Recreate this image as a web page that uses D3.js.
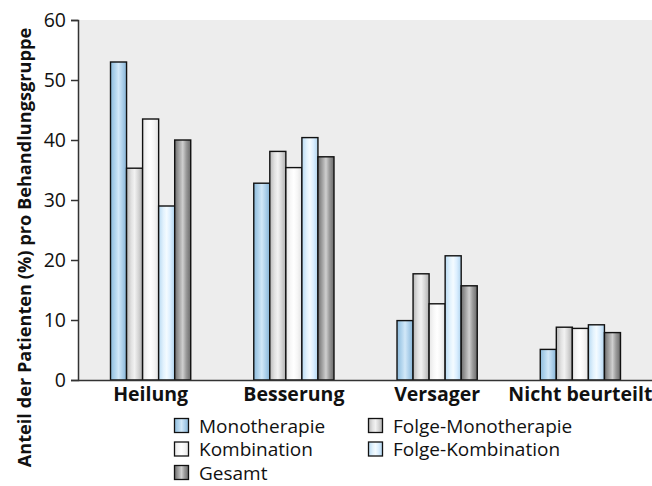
<!DOCTYPE html>
<html><head><meta charset="utf-8">
<script src="https://cdn.jsdelivr.net/npm/d3@7"></script>
<style>
html,body{margin:0;padding:0;background:#fff;}
text{font-family:"Open Sans",sans-serif;}
</style></head>
<body><svg id="c" width="652" height="486"></svg>
<script>
const categories = ["Heilung", "Besserung", "Versager", "Nicht beurteilt"];
const seriesNames = ["Monotherapie", "Folge-Monotherapie", "Kombination", "Folge-Kombination", "Gesamt"];
const monotherapie      = [53.0, 32.8, 9.9, 5.1];
const folgeMonotherapie = [35.3, 38.1, 17.7, 8.8];
const kombination       = [43.5, 35.4, 12.7, 8.6];
const folgeKombination  = [29.0, 40.4, 20.7, 9.2];
const gesamt            = [40.0, 37.2, 15.7, 7.9];
const yTicks = [0, 10, 20, 30, 40, 50, 60];
const yTitle = "Anteil der Patienten (%) pro Behandlungsgruppe";

const seriesValues = [monotherapie, folgeMonotherapie, kombination, folgeKombination, gesamt];
const gradStops = [
  ["#8dbbdc","#b4d6ee","#d2e8f8","#b0d2ec","#86b4d6"],
  ["#b8b8b8","#e2e2e2","#f2f2f2","#d8d8d8","#b0b0b0"],
  ["#e6e6e6","#f8f8f8","#ffffff","#f6f6f6","#e2e2e2"],
  ["#b8daf2","#e2f2fd","#f4fbff","#dcefff","#b0d4ee"],
  ["#6e6e6e","#a8a8a8","#cfcfcf","#9a9a9a","#6a6a6a"]
];

const svg = d3.select("#c");
const mL = 78, mT = 20, mB = 380, mR = 652;

const defs = svg.append("defs");
gradStops.forEach((st, i) => {
  const g = defs.append("linearGradient").attr("id", "g" + i)
    .attr("x1", "0").attr("x2", "1").attr("y1", "0").attr("y2", "0");
  const offs = [0, 0.3, 0.5, 0.72, 1];
  st.forEach((c, j) => g.append("stop").attr("offset", offs[j]).attr("stop-color", c));
});

svg.append("rect").attr("x", mL).attr("y", mT).attr("width", mR - mL).attr("height", mB - mT)
  .attr("fill", "#ededed");

const x = d3.scaleBand().domain(categories).range([mL + 1, mR]).paddingInner(0.44).paddingOuter(0.22);
const xi = d3.scaleBand().domain(seriesNames).range([0, x.bandwidth()]);
const y = d3.scaleLinear().domain([0, 60]).range([mB, mT]);

const data = [];
categories.forEach((c, ci) => seriesNames.forEach((s, si) => data.push({c, s, si, v: seriesValues[si][ci]})));

svg.append("g").selectAll("rect").data(data).join("rect")
  .attr("x", d => x(d.c) + xi(d.s))
  .attr("y", d => y(d.v))
  .attr("width", xi.bandwidth())
  .attr("height", d => y(0) - y(d.v))
  .attr("fill", d => `url(#g${d.si})`)
  .attr("stroke", "#111").attr("stroke-width", 1.4);

const yAxis = svg.append("g").attr("transform", `translate(${mL},0)`)
  .call(d3.axisLeft(y).tickValues(yTicks).tickSize(7).tickPadding(5));
yAxis.select(".domain").attr("stroke", "#333").attr("stroke-width", 1.5);
yAxis.selectAll(".tick line").attr("stroke", "#333").attr("stroke-width", 1.5);
yAxis.selectAll("text").attr("font-size", 19.5).attr("fill", "#111").attr("font-family", "Open Sans");

const xAxis = svg.append("g").attr("transform", `translate(0,${mB})`)
  .call(d3.axisBottom(x).tickSize(0).tickPadding(8));
xAxis.select(".domain").attr("stroke", "#333").attr("stroke-width", 1.5).attr("d", `M${mL},0.5H${mR}`);
xAxis.selectAll("text").attr("font-size", 19.5).attr("font-weight", "bold").attr("fill", "#111")
  .attr("font-family", "Open Sans").attr("dy", "0.66em");

svg.append("text").attr("transform", `translate(31,${(15 + 480) / 2}) rotate(-90)`)
  .attr("text-anchor", "middle").attr("font-size", 18.2).attr("font-weight", "bold").attr("fill", "#111")
  .text(yTitle);

// legend
const legPos = [[174, 418], [368, 418], [174, 441.5], [368, 441.5], [174, 465]];
const lg = svg.append("g");
seriesNames.forEach((name, si) => {
  const [lx, ly] = legPos[si];
  lg.append("rect").attr("x", lx + 0.5).attr("y", ly + 0.5).attr("width", 14).attr("height", 14)
    .attr("fill", `url(#g${si})`).attr("stroke", "#111").attr("stroke-width", 1.3);
  lg.append("text").attr("x", lx + 25).attr("y", ly + 14.5).attr("font-size", 19).attr("fill", "#111")
    .text(name);
});
</script></body></html>
